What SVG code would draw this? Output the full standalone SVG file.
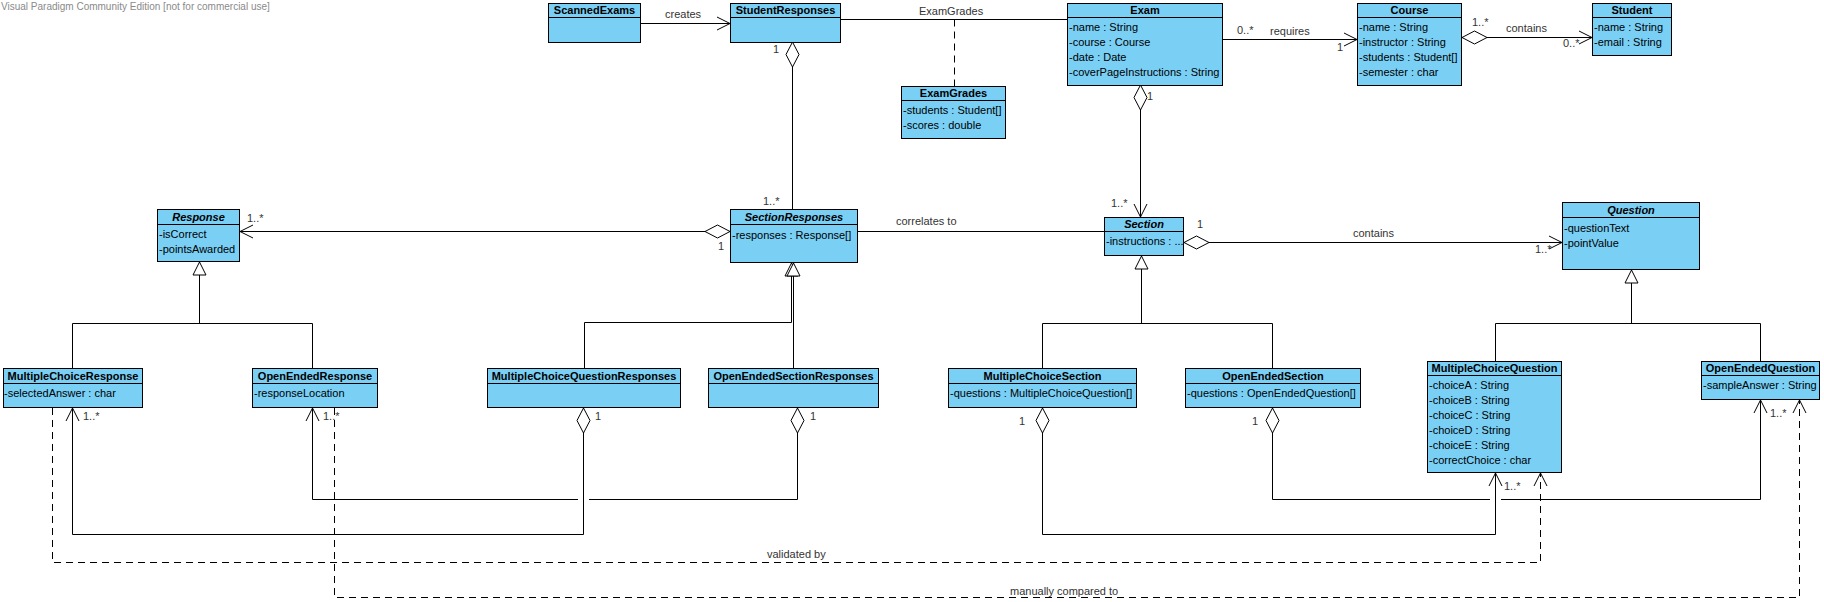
<svg xmlns="http://www.w3.org/2000/svg" width="1824" height="602" viewBox="0 0 1824 602">
<style>
  .box{fill:#7ACFF5;stroke:#000;stroke-width:1}
  .sep{stroke:#000;stroke-width:1}
  .name{font-family:"Liberation Sans",Arial,sans-serif;font-size:11px;font-weight:bold;fill:#000;text-anchor:middle}
  .abs{font-style:italic}
  .attr{font-family:"Liberation Sans",Arial,sans-serif;font-size:11px;fill:#000}
  .lbl{font-family:"Liberation Sans",Arial,sans-serif;font-size:11px;fill:#333}
  .wm{font-family:"Liberation Sans",Arial,sans-serif;font-size:10px;fill:#8a8a8a}
  .c{fill:none;stroke:#000;stroke-width:1}
  .dash{stroke-dasharray:7,5}
</style>
<defs>
  <marker id="arr" markerUnits="userSpaceOnUse" orient="auto" refX="0" refY="0" markerWidth="30" markerHeight="30" overflow="visible">
    <path d="M-13,-6.5 L0,0 L-13,6.5" fill="none" stroke="#000" stroke-width="1"/>
  </marker>
  <marker id="dia" markerUnits="userSpaceOnUse" orient="auto" refX="0" refY="0" markerWidth="30" markerHeight="30" overflow="visible">
    <path d="M0,0 L12.5,-6.5 L25,0 L12.5,6.5 Z" fill="#fff" stroke="#000" stroke-width="1"/>
  </marker>
  <marker id="tri" markerUnits="userSpaceOnUse" orient="auto" refX="0" refY="0" markerWidth="30" markerHeight="30" overflow="visible">
    <path d="M0,0 L-13,-6.5 L-13,6.5 Z" fill="#fff" stroke="#000" stroke-width="1"/>
  </marker>
</defs>
<rect x="0" y="0" width="1824" height="602" fill="#fff"/>
<text class="wm" x="1" y="10">Visual Paradigm Community Edition [not for commercial use]</text>

<g id="connectors">
  <path class="c" d="M641,23.5 H730" marker-end="url(#arr)"/>
  <path class="c" d="M841,19.5 H1067"/>
  <path class="c dash" d="M954.5,19.5 V86"/>
  <path class="c" d="M1223,39.5 H1357" marker-end="url(#arr)"/>
  <path class="c" d="M1462,37.5 H1592" marker-start="url(#dia)" marker-end="url(#arr)"/>
  <path class="c" d="M1140.5,85 V217" marker-start="url(#dia)" marker-end="url(#arr)"/>
  <path class="c" d="M792.5,42 V209" marker-start="url(#dia)"/>
  <path class="c" d="M730,231.5 H240" marker-start="url(#dia)" marker-end="url(#arr)"/>
  <path class="c" d="M858,231.5 H1104"/>
  <path class="c" d="M1184,242.5 H1562" marker-start="url(#dia)" marker-end="url(#arr)"/>
  <path class="c" d="M72.5,368 V323.5 H312.5 V368 M199.5,323.5 V262" marker-end="url(#tri)"/>
  <path class="c" d="M584.5,368 V322.5 H791.5 V263" marker-end="url(#tri)"/>
  <path class="c" d="M793.5,368 V263" marker-end="url(#tri)"/>
  <path class="c" d="M1042.5,368 V323.5 H1272.5 V368 M1141.5,323.5 V256" marker-end="url(#tri)"/>
  <path class="c" d="M1495.5,361 V323.5 H1760.5 V361 M1631.5,323.5 V270" marker-end="url(#tri)"/>
  <path class="c" d="M583.5,408 V534.5 H72.5 V408" marker-start="url(#dia)" marker-end="url(#arr)"/>
  <path class="c" d="M797.5,408 V499.5 H589 M578,499.5 H312.5 V408" marker-start="url(#dia)" marker-end="url(#arr)"/>
  <path class="c" d="M1042.5,408 V534.5 H1495.5 V473" marker-start="url(#dia)" marker-end="url(#arr)"/>
  <path class="c" d="M1272.5,408 V499.5 H1490 M1501,499.5 H1760.5 V400" marker-start="url(#dia)" marker-end="url(#arr)"/>
  <path class="c dash" d="M52.5,408 V562.5 H1540.5 V473" marker-end="url(#arr)"/>
  <path class="c dash" d="M334.5,408 V597.5 H1799.5 V400" marker-end="url(#arr)"/>

  <text class="lbl" x="665" y="18">creates</text>
  <text class="lbl" x="919" y="15">ExamGrades</text>
  <text class="lbl" x="1237" y="34">0..*</text>
  <text class="lbl" x="1270" y="35">requires</text>
  <text class="lbl" x="1337" y="51">1</text>
  <text class="lbl" x="1472" y="26">1..*</text>
  <text class="lbl" x="1506" y="32">contains</text>
  <text class="lbl" x="1563" y="47">0..*</text>
  <text class="lbl" x="1147" y="100">1</text>
  <text class="lbl" x="1111" y="207">1..*</text>
  <text class="lbl" x="773" y="53">1</text>
  <text class="lbl" x="763" y="205">1..*</text>
  <text class="lbl" x="247" y="222">1..*</text>
  <text class="lbl" x="718" y="250">1</text>
  <text class="lbl" x="896" y="225">correlates to</text>
  <text class="lbl" x="1197" y="228">1</text>
  <text class="lbl" x="1353" y="237">contains</text>
  <text class="lbl" x="1535" y="253">1..*</text>
  <text class="lbl" x="595" y="420">1</text>
  <text class="lbl" x="83" y="420">1..*</text>
  <text class="lbl" x="810" y="420">1</text>
  <text class="lbl" x="323" y="420">1..*</text>
  <text class="lbl" x="1019" y="425">1</text>
  <text class="lbl" x="1504" y="490">1..*</text>
  <text class="lbl" x="1252" y="425">1</text>
  <text class="lbl" x="1770" y="417">1..*</text>
  <text class="lbl" x="767" y="558">validated by</text>
  <text class="lbl" x="1010" y="595">manually compared to</text>
</g>

<g id="ScannedExams">
  <rect class="box" x="548.5" y="3.5" width="92" height="39"/>
  <line class="sep" x1="548.5" y1="17.5" x2="640.5" y2="17.5"/>
  <text class="name" x="594.5" y="14">ScannedExams</text>
</g>
<g id="StudentResponses">
  <rect class="box" x="730.5" y="3.5" width="110" height="39"/>
  <line class="sep" x1="730.5" y1="17.5" x2="840.5" y2="17.5"/>
  <text class="name" x="785.5" y="14">StudentResponses</text>
</g>
<g id="Exam">
  <rect class="box" x="1067.5" y="3.5" width="155" height="82"/>
  <line class="sep" x1="1067.5" y1="17.5" x2="1222.5" y2="17.5"/>
  <text class="name" x="1145" y="14">Exam</text>
  <text class="attr" x="1069" y="31">-name : String</text>
  <text class="attr" x="1069" y="46">-course : Course</text>
  <text class="attr" x="1069" y="61">-date : Date</text>
  <text class="attr" x="1069" y="76">-coverPageInstructions : String</text>
</g>
<g id="Course">
  <rect class="box" x="1357.5" y="3.5" width="104" height="82"/>
  <line class="sep" x1="1357.5" y1="17.5" x2="1461.5" y2="17.5"/>
  <text class="name" x="1409.5" y="14">Course</text>
  <text class="attr" x="1359" y="31">-name : String</text>
  <text class="attr" x="1359" y="46">-instructor : String</text>
  <text class="attr" x="1359" y="61">-students : Student[]</text>
  <text class="attr" x="1359" y="76">-semester : char</text>
</g>
<g id="Student">
  <rect class="box" x="1592.5" y="3.5" width="79" height="52"/>
  <line class="sep" x1="1592.5" y1="17.5" x2="1671.5" y2="17.5"/>
  <text class="name" x="1632" y="14">Student</text>
  <text class="attr" x="1594" y="31">-name : String</text>
  <text class="attr" x="1594" y="46">-email : String</text>
</g>
<g id="ExamGrades">
  <rect class="box" x="901.5" y="86.5" width="104" height="52"/>
  <line class="sep" x1="901.5" y1="100.5" x2="1005.5" y2="100.5"/>
  <text class="name" x="953.5" y="97">ExamGrades</text>
  <text class="attr" x="903" y="114">-students : Student[]</text>
  <text class="attr" x="903" y="129">-scores : double</text>
</g>
<g id="Response">
  <rect class="box" x="157.5" y="209.5" width="82" height="52"/>
  <line class="sep" x1="157.5" y1="224.5" x2="239.5" y2="224.5"/>
  <text class="name abs" x="198.5" y="221">Response</text>
  <text class="attr" x="159" y="238">-isCorrect</text>
  <text class="attr" x="159" y="253">-pointsAwarded</text>
</g>
<g id="SectionResponses">
  <rect class="box" x="730.5" y="209.5" width="127" height="53"/>
  <line class="sep" x1="730.5" y1="224.5" x2="857.5" y2="224.5"/>
  <text class="name abs" x="794" y="221">SectionResponses</text>
  <text class="attr" x="732" y="239">-responses : Response[]</text>
</g>
<g id="Section">
  <rect class="box" x="1104.5" y="217.5" width="79" height="38"/>
  <line class="sep" x1="1104.5" y1="231.5" x2="1183.5" y2="231.5"/>
  <text class="name abs" x="1144" y="228">Section</text>
  <text class="attr" x="1106" y="245">-instructions : ...</text>
</g>
<g id="Question">
  <rect class="box" x="1562.5" y="202.5" width="137" height="67"/>
  <line class="sep" x1="1562.5" y1="217.5" x2="1699.5" y2="217.5"/>
  <text class="name abs" x="1631" y="214">Question</text>
  <text class="attr" x="1564" y="232">-questionText</text>
  <text class="attr" x="1564" y="247">-pointValue</text>
</g>
<g id="MultipleChoiceResponse">
  <rect class="box" x="3.5" y="368.5" width="139" height="39"/>
  <line class="sep" x1="3.5" y1="383.5" x2="142.5" y2="383.5"/>
  <text class="name" x="73" y="380">MultipleChoiceResponse</text>
  <text class="attr" x="4" y="397">-selectedAnswer : char</text>
</g>
<g id="OpenEndedResponse">
  <rect class="box" x="252.5" y="368.5" width="125" height="39"/>
  <line class="sep" x1="252.5" y1="383.5" x2="377.5" y2="383.5"/>
  <text class="name" x="315" y="380">OpenEndedResponse</text>
  <text class="attr" x="254" y="397">-responseLocation</text>
</g>
<g id="MultipleChoiceQuestionResponses">
  <rect class="box" x="487.5" y="368.5" width="193" height="39"/>
  <line class="sep" x1="487.5" y1="383.5" x2="680.5" y2="383.5"/>
  <text class="name" x="584" y="380">MultipleChoiceQuestionResponses</text>
</g>
<g id="OpenEndedSectionResponses">
  <rect class="box" x="708.5" y="368.5" width="170" height="39"/>
  <line class="sep" x1="708.5" y1="383.5" x2="878.5" y2="383.5"/>
  <text class="name" x="793.5" y="380">OpenEndedSectionResponses</text>
</g>
<g id="MultipleChoiceSection">
  <rect class="box" x="948.5" y="368.5" width="188" height="39"/>
  <line class="sep" x1="948.5" y1="383.5" x2="1136.5" y2="383.5"/>
  <text class="name" x="1042.5" y="380">MultipleChoiceSection</text>
  <text class="attr" x="950" y="397">-questions : MultipleChoiceQuestion[]</text>
</g>
<g id="OpenEndedSection">
  <rect class="box" x="1185.5" y="368.5" width="175" height="39"/>
  <line class="sep" x1="1185.5" y1="383.5" x2="1360.5" y2="383.5"/>
  <text class="name" x="1273" y="380">OpenEndedSection</text>
  <text class="attr" x="1187" y="397">-questions : OpenEndedQuestion[]</text>
</g>
<g id="MultipleChoiceQuestion">
  <rect class="box" x="1427.5" y="361.5" width="134" height="111"/>
  <line class="sep" x1="1427.5" y1="375.5" x2="1561.5" y2="375.5"/>
  <text class="name" x="1494.5" y="372">MultipleChoiceQuestion</text>
  <text class="attr" x="1429" y="389">-choiceA : String</text>
  <text class="attr" x="1429" y="404">-choiceB : String</text>
  <text class="attr" x="1429" y="419">-choiceC : String</text>
  <text class="attr" x="1429" y="434">-choiceD : String</text>
  <text class="attr" x="1429" y="449">-choiceE : String</text>
  <text class="attr" x="1429" y="464">-correctChoice : char</text>
</g>
<g id="OpenEndedQuestion">
  <rect class="box" x="1701.5" y="361.5" width="118" height="38"/>
  <line class="sep" x1="1701.5" y1="375.5" x2="1819.5" y2="375.5"/>
  <text class="name" x="1760.5" y="372">OpenEndedQuestion</text>
  <text class="attr" x="1703" y="389">-sampleAnswer : String</text>
</g>
</svg>
